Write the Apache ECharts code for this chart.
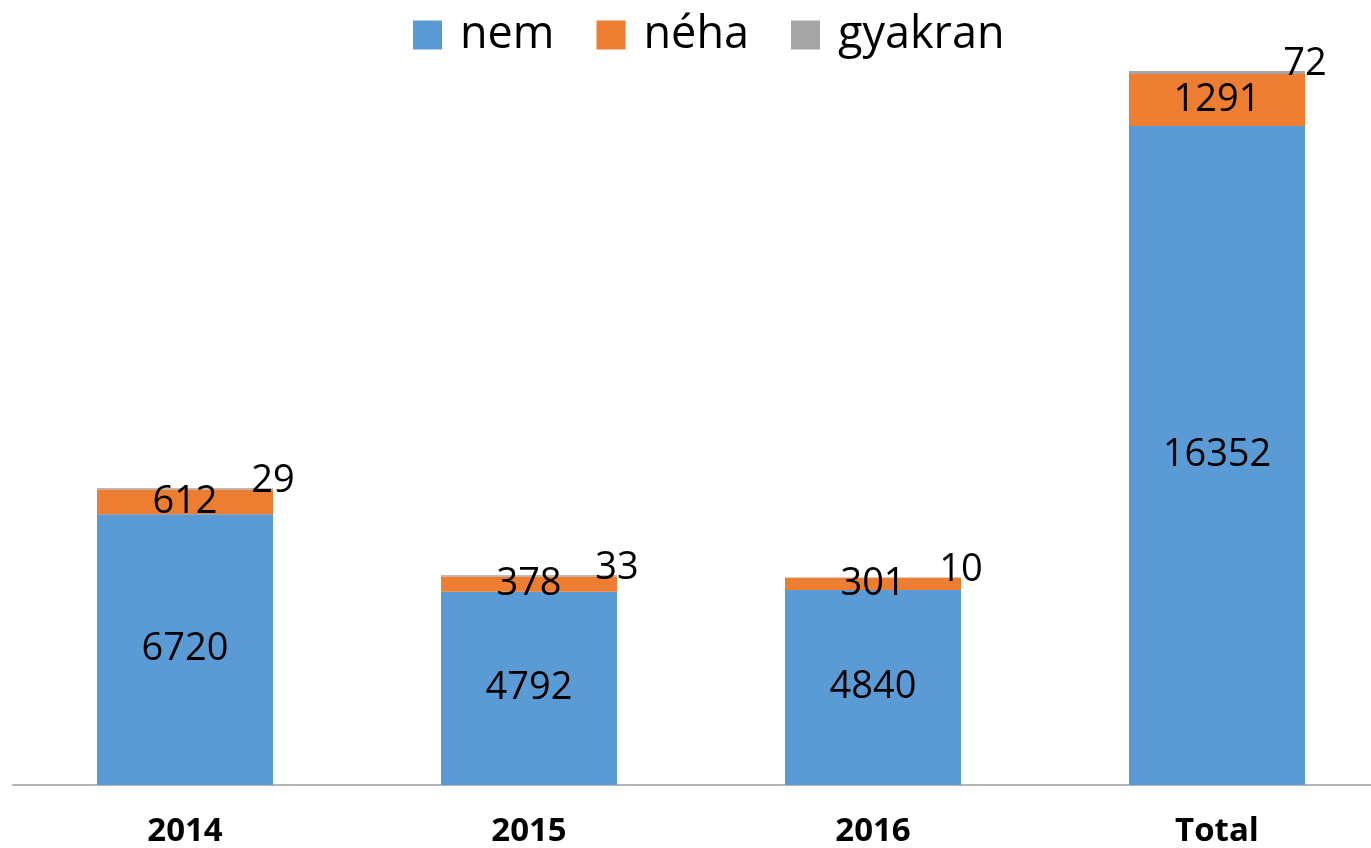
<!DOCTYPE html>
<html>
<head>
    <meta charset="utf-8">
    <title>nem / néha / gyakran</title>
    <script src="https://cdn.jsdelivr.net/npm/echarts@6/dist/echarts.min.js"></script>
    <style>
        html, body { margin: 0; padding: 0; background: #fff; }
        #chart { width: 1371px; height: 848px; }
    </style>
</head>
<body>
    <div id="chart"></div>
    <script type="text/javascript">
        var categories = ['2014', '2015', '2016', 'Total'];
        var nemValues = [6720, 4792, 4840, 16352];
        var nehaValues = [612, 378, 301, 1291];
        var gyakranValues = [29, 33, 10, 72];

        var font = 'Open Sans';
        var chart = echarts.init(document.getElementById('chart'));

        var option = {
            animation: false,
            color: ['#5B9BD5', '#ED7D31', '#A5A5A5'],
            legend: {
                left: 413,
                top: 12,
                padding: 0,
                itemWidth: 29,
                itemHeight: 29,
                itemGap: 42,
                icon: 'rect',
                textStyle: {
                    fontFamily: font,
                    fontSize: 45,
                    lineHeight: 46,
                    color: '#000',
                    padding: [0, 0, 0, 13]
                },
                data: ['nem', 'néha', 'gyakran']
            },
            grid: {
                left: 13,
                width: 1376,
                top: 71,
                bottom: 63,
                outerBoundsMode: 'none'
            },
            xAxis: {
                type: 'category',
                data: categories,
                axisLine: { lineStyle: { color: '#b4b4b4', width: 2 } },
                axisTick: { show: false },
                axisLabel: {
                    fontFamily: font,
                    fontWeight: 'bold',
                    fontSize: 33,
                    lineHeight: 36,
                    color: '#000',
                    margin: 29
                }
            },
            yAxis: {
                type: 'value',
                min: 0,
                max: function (v) { return v.max; },
                show: false,
                splitLine: { show: false }
            },
            series: [
                {
                    name: 'nem',
                    type: 'bar',
                    stack: 'all',
                    barWidth: 176,
                    data: nemValues,
                    label: {
                        show: true,
                        position: 'inside',
                        fontFamily: font,
                        fontSize: 38,
                        color: '#000'
                    }
                },
                {
                    name: 'néha',
                    type: 'bar',
                    stack: 'all',
                    data: nehaValues,
                    label: {
                        show: true,
                        position: 'inside',
                        fontFamily: font,
                        fontSize: 38,
                        color: '#000'
                    }
                },
                {
                    name: 'gyakran',
                    type: 'bar',
                    stack: 'all',
                    data: gyakranValues,
                    label: {
                        show: true,
                        position: ['100%', 0],
                        align: 'center',
                        verticalAlign: 'middle',
                        offset: [0, -7],
                        fontFamily: font,
                        fontSize: 38,
                        color: '#000'
                    }
                }
            ]
        };

        chart.setOption(option);
    </script>
</body>
</html>
